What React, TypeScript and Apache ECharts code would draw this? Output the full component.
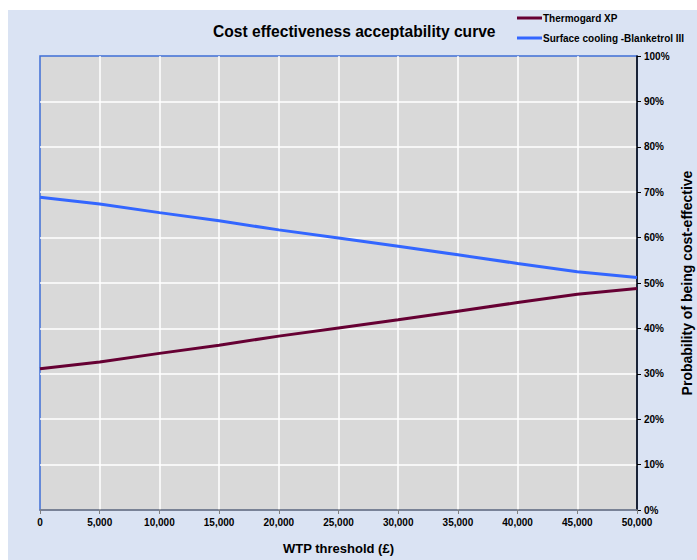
import React, { useEffect, useRef } from "react";
import * as echarts from "echarts";

const wtpThresholds = [0, 5000, 10000, 15000, 20000, 25000, 30000, 35000, 40000, 45000, 50000];
const thermogardXP = [31.1, 32.6, 34.5, 36.3, 38.3, 40.1, 41.9, 43.8, 45.7, 47.5, 48.8];
const surfaceCooling = [68.9, 67.4, 65.5, 63.7, 61.7, 59.9, 58.1, 56.2, 54.3, 52.5, 51.2];
const seriesNames = ["Thermogard XP", "Surface cooling -Blanketrol III"];

const FONT = "Liberation Sans, Arial, sans-serif";

export default function App() {
  const ref = useRef<HTMLDivElement>(null);
  useEffect(() => {
    if (!ref.current) return;
    const chart = echarts.init(ref.current, null, { renderer: "svg" });
    chart.setOption({
      animation: false,
      backgroundColor: "#DAE3F3",
      title: {
        text: "Cost effectiveness acceptability curve",
        left: 205,
        top: 13,
        padding: 0,
        textStyle: { fontFamily: FONT, fontSize: 15.6, fontWeight: "bold", color: "#000" },
      },
      legend: {
        orient: "vertical",
        left: 509,
        top: 3,
        padding: 0,
        itemWidth: 25,
        itemHeight: 3,
        itemGap: 10,
        icon: "rect",
        textStyle: { fontFamily: FONT, fontSize: 10, fontWeight: "bold", color: "#000", padding: [0, 0, 0, -4] },
        data: seriesNames,
      },
      grid: {
        left: 32,
        top: 46,
        right: 60,
        bottom: 50,
        outerBoundsMode: "none",
        containLabel: false,
        show: true,
        backgroundColor: "#D9D9D9",
        borderColor: "#3F6FD6",
        borderWidth: 1.5,
      },
      xAxis: {
        type: "value",
        min: 0,
        max: 50000,
        interval: 5000,
        name: "WTP threshold (£)",
        nameLocation: "middle",
        nameGap: 32,
        nameTextStyle: { fontFamily: FONT, fontSize: 13, fontWeight: "bold", color: "#000" },
        axisLine: { show: true, onZero: false, lineStyle: { color: "#808080", width: 1.5 } },
        axisTick: { show: true, length: 4, lineStyle: { color: "#808080" } },
        axisLabel: {
          fontFamily: FONT,
          fontSize: 10,
          fontWeight: "bold",
          color: "#000",
          margin: 7,
          formatter: (v: number) => v.toLocaleString("en-US"),
        },
        splitLine: {
          show: true,
          showMinLine: false,
          showMaxLine: false,
          lineStyle: { color: "#FFFFFF", width: 1.5 },
        },
      },
      yAxis: {
        type: "value",
        position: "right",
        min: 0,
        max: 100,
        interval: 10,
        name: "Probability of being cost-effective",
        nameLocation: "middle",
        nameGap: 43,
        nameRotate: 90,
        nameTextStyle: { fontFamily: FONT, fontSize: 14, fontWeight: "bold", color: "#000" },
        axisLine: { show: true, onZero: false, lineStyle: { color: "#000", width: 1.5 } },
        axisTick: { show: true, length: 4, lineStyle: { color: "#000" } },
        axisLabel: {
          fontFamily: FONT,
          fontSize: 10,
          fontWeight: "bold",
          color: "#000",
          margin: 7,
          formatter: "{value}%",
        },
        splitLine: {
          show: true,
          showMinLine: false,
          showMaxLine: false,
          lineStyle: { color: "#FFFFFF", width: 1.5 },
        },
      },
      series: [
        {
          name: seriesNames[0],
          type: "line",
          data: wtpThresholds.map((x, i) => [x, thermogardXP[i]]),
          showSymbol: false,
          color: "#660033",
          lineStyle: { width: 3, color: "#660033" },
        },
        {
          name: seriesNames[1],
          type: "line",
          data: wtpThresholds.map((x, i) => [x, surfaceCooling[i]]),
          showSymbol: false,
          color: "#3366FF",
          lineStyle: { width: 3, color: "#3366FF" },
        },
      ],
    });
    return () => chart.dispose();
  }, []);
  return (
    <div
      ref={ref}
      style={{ position: "absolute", left: 8, top: 10, width: 689, height: 550 }}
    />
  );
}
